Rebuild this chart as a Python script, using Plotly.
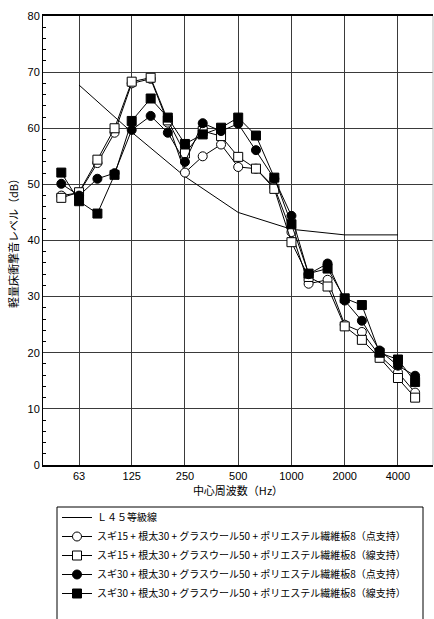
import plotly.graph_objects as go

# 1/3-octave band centre frequencies (Hz)
freqs = [50, 63, 80, 100, 125, 160, 200, 250, 315, 400, 500, 630, 800,
         1000, 1250, 1600, 2000, 2500, 3150, 4000, 5000]

# L-45 rating curve (octave bands)
l45_freqs = [63, 125, 250, 500, 1000, 2000, 4000]
l45_levels = [67.7, 59.3, 51.4, 45.0, 42.0, 41.0, 41.0]

# Light-weight floor impact sound levels (dB)
sugi15_point = [48.0, 48.5, 53.8, 59.2, 68.0, 68.8, 61.0, 52.1, 55.0, 57.1, 53.1,
                52.8, 49.5, 41.5, 32.3, 33.0, 25.0, 23.7, 19.5, 16.5, 12.9]
sugi15_line = [47.6, 48.6, 54.4, 60.0, 68.3, 69.0, 61.4, 55.5, 59.5, 58.6, 54.9,
               52.8, 49.2, 39.7, 33.5, 31.8, 24.7, 22.3, 19.1, 15.5, 12.0]
sugi30_point = [50.1, 48.0, 51.0, 52.0, 59.7, 62.2, 59.2, 54.0, 60.9, 59.5, 60.8,
                56.1, 51.0, 44.4, 34.0, 35.9, 29.3, 25.7, 20.4, 17.7, 15.9]
sugi30_line = [52.1, 47.0, 44.8, 51.7, 61.3, 65.3, 61.9, 57.2, 58.9, 60.1, 61.9,
               58.7, 51.2, 42.9, 34.1, 35.0, 29.7, 28.5, 20.0, 18.8, 14.8]

names = [
    "Ｌ４５等級線",
    "スギ15 + 根太30 + グラスウール50 + ポリエステル繊維板8（点支持）",
    "スギ15 + 根太30 + グラスウール50 + ポリエステル繊維板8（線支持）",
    "スギ30 + 根太30 + グラスウール50 + ポリエステル繊維板8（点支持）",
    "スギ30 + 根太30 + グラスウール50 + ポリエステル繊維板8（線支持）",
]

x_ticks = [63, 125, 250, 500, 1000, 2000, 4000]
x_ticktext = ["63", "125", "250", "500", "1000", "2000", "4000"]

W, H = 434, 619
ML, MR, MT, MB = 43, 1, 16, 154
PW, PH = W - ML - MR, H - MT - MB

jp_font = "Noto Sans CJK JP"
num_font = "Liberation Sans, Arial"

fig = go.Figure()

fig.add_trace(go.Scatter(
    x=l45_freqs, y=l45_levels, mode="lines", name=names[0],
    line=dict(color="black", width=1),
))

series = [
    (sugi15_point, "circle", "white"),
    (sugi15_line, "square", "white"),
    (sugi30_point, "circle", "black"),
    (sugi30_line, "square", "black"),
]
for (vals, sym, fill), nm in zip(series, names[1:]):
    fig.add_trace(go.Scatter(
        x=freqs, y=vals, mode="lines+markers", name=nm,
        line=dict(color="black", width=1),
        marker=dict(symbol=sym, size=9, color=fill,
                    line=dict(color="black", width=1)),
    ))


def px_x(p):
    return (p - ML) / PW


def px_y(p):
    return (H - MB - p) / PH


fig.update_layout(
    width=W, height=H,
    margin=dict(l=ML, r=MR, t=MT, b=MB),
    paper_bgcolor="white", plot_bgcolor="white",
    showlegend=True,
    legend=dict(
        x=px_x(57), y=px_y(503), xanchor="left", yanchor="top",
        font=dict(family=jp_font, size=10, color="black"),
        bgcolor="rgba(0,0,0,0)", borderwidth=0,
        itemwidth=30,
    ),
    shapes=[
        # legend frame (runs past the bottom of the page)
        dict(type="rect", xref="paper", yref="paper",
             x0=px_x(57), x1=px_x(423), y0=px_y(507), y1=px_y(660),
             line=dict(color="black", width=1)),
        # right border of the plotting area
        dict(type="line", xref="paper", yref="paper",
             x0=1, x1=1, y0=0, y1=1,
             line=dict(color="#bbbbbb", width=1)),
    ],
    xaxis=dict(
        type="log",
        range=[1.5955, 3.8001],
        tickmode="array", tickvals=x_ticks, ticktext=x_ticktext,
        showgrid=True, gridcolor="#3a3a3a", gridwidth=1,
        showline=True, linecolor="black", linewidth=1.5, mirror=True,
        ticks="", zeroline=False,
        tickfont=dict(family=num_font, size=11, color="black"),
        title=dict(text="中心周波数（Hz）",
                   font=dict(family=jp_font, size=11, color="black"),
                   standoff=2),
    ),
    yaxis=dict(
        range=[0, 80], dtick=10, tick0=0,
        showgrid=True, gridcolor="#3a3a3a", gridwidth=1,
        showline=True, linecolor="black", linewidth=1,
        ticks="", zeroline=False,
        minor=dict(dtick=2, ticks="inside", ticklen=3,
                   tickcolor="black", tickwidth=1, showgrid=False),
        tickfont=dict(family=num_font, size=11, color="black"),
        title=dict(text="軽量床衝撃音レベル（dB）",
                   font=dict(family=jp_font, size=11, color="black"),
                   standoff=6),
    ),
)

fig.write_html("out.html")
